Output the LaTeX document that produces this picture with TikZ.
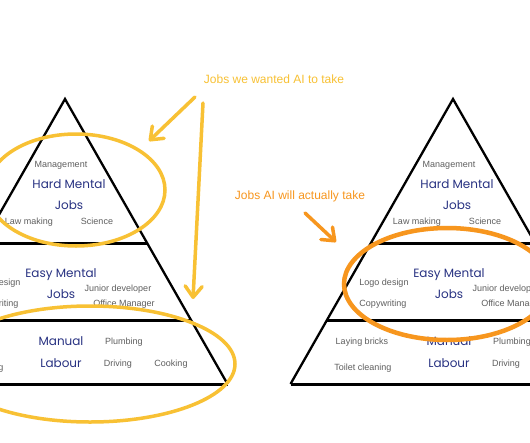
\documentclass[tikz,border=0pt]{standalone}
\usepackage{fontspec}
\setmainfont{Liberation Sans}
\newfontfamily\handfont{Poppins}
\usepackage{tikz}
\usetikzlibrary{arrows.meta, shapes.geometric}
\definecolor{sketchnavy}{RGB}{40, 50, 130}
\definecolor{labelgray}{RGB}{95, 95, 95}
\definecolor{wantyellow}{RGB}{248, 193, 52}
\definecolor{takeorange}{RGB}{247, 150, 30}
\tikzstyle{job} = [
    anchor=base,
    inner sep=0pt,
    font=\fontsize{9}{10}\selectfont,
    text=labelgray
]
\tikzstyle{tier} = [
    anchor=base,
    inner sep=0pt,
    font=\handfont\fontsize{12}{13}\selectfont,
    text=sketchnavy
]
\tikzstyle{callout} = [
    anchor=base,
    inner sep=0pt,
    font=\fontsize{12}{14}\selectfont
]
\tikzstyle{edge} = [line width=2.3pt, line join=miter, black]
\tikzstyle{band} = [line width=3pt, black]
\tikzstyle{ring} = [
    ellipse,
    draw,
    line width=3.5pt,
    inner sep=0pt
]
\tikzstyle{pointer} = [
    line width=3.5pt,
    line cap=round,
    -{Straight Barb[length=11pt, width=17pt, round]}
]

\begin{document}
\begin{tikzpicture}[x=1pt, y=-1pt]
        \useasboundingbox (0,0) rectangle (530,442);
        \fill[white] (0,0) rectangle (530,442);
        \clip (0,0) rectangle (530,442);

        % Pyramids (same tiers, shifted)
        \foreach \ax/\p in {65/L, 453/R} {
            \draw[edge] (\ax-162.5,384) -- (\ax,99) -- (\ax+162.5,384);
            \draw[band] (\ax-82,243) -- (\ax+82,243);
            \draw[band] (\ax-126,320) -- (\ax+126,320);
            \draw[band] (\ax-162.5,384) -- (\ax+162.5,384);

            % Top tier
            \node[job] (mgmt\p) at (\ax-4,167.3) {Management};
            \node[tier] (hard\p) at (\ax+4,188) {Hard Mental};
            \node[tier] (hardjobs\p) at (\ax+4,209) {Jobs};
            \node[job] (law\p) at (\ax-36,224.3) {Law making};
            \node[job] (sci\p) at (\ax+32,224.3) {Science};

            % Middle tier
            \node[job] (logo\p) at (\ax-69,285.3) {Logo design};
            \node[job] (copy\p) at (\ax-70,306.3) {Copywriting};
            \node[tier] (easy\p) at (\ax-4,277) {Easy Mental};
            \node[tier] (easyjobs\p) at (\ax-4,298) {Jobs};
            \node[job] (junior\p) at (\ax+53,291.3) {Junior developer};
            \node[job] (office\p) at (\ax+59,306.3) {Office Manager};

            % Bottom tier
            \node[job] (bricks\p) at (\ax-91,344.3) {Laying bricks};
            \node[job] (toilet\p) at (\ax-90,370.3) {Toilet cleaning};
            \node[tier] (manual\p) at (\ax-4,345) {Manual};
            \node[tier] (labour\p) at (\ax-4,367) {Labour};
            \node[job] (plumb\p) at (\ax+59,344.3) {Plumbing};
            \node[job] (drive\p) at (\ax+53,366.3) {Driving};
            \node[job] (cook\p) at (\ax+106,366.3) {Cooking};
        }

        % Rings
        \node[ring, draw=wantyellow, minimum width=178pt, minimum height=112pt] (wantTop) at (76,190) {};
        \node[ring, draw=wantyellow, minimum width=290pt, minimum height=116pt] (wantBottom) at (90,364) {};
        \node[ring, draw=takeorange, line width=4.5pt, minimum width=206pt, minimum height=112pt] (takeMid) at (447,284) {};

        % Callouts
        \node[callout, text=wantyellow] (wantLabel) at (274,83.3) {Jobs we wanted AI to take};
        \node[callout, text=takeorange] (takeLabel) at (300,199.3) {Jobs AI will actually take};

        % Arrows
        \coordinate (wantTail1) at (195,97);
        \coordinate (wantHead1) at (149,141);
        \coordinate (wantTail2) at (203,103);
        \coordinate (wantHead2) at (193,299);
        \coordinate (takeTail) at (305,213);
        \coordinate (takeHead) at (336,242);
        \draw[pointer, wantyellow] (wantTail1) -- (wantHead1);
        \draw[pointer, wantyellow] (wantTail2) -- (wantHead2);
        \draw[pointer, takeorange] (takeTail) -- (takeHead);
    \end{tikzpicture}
\end{document}
